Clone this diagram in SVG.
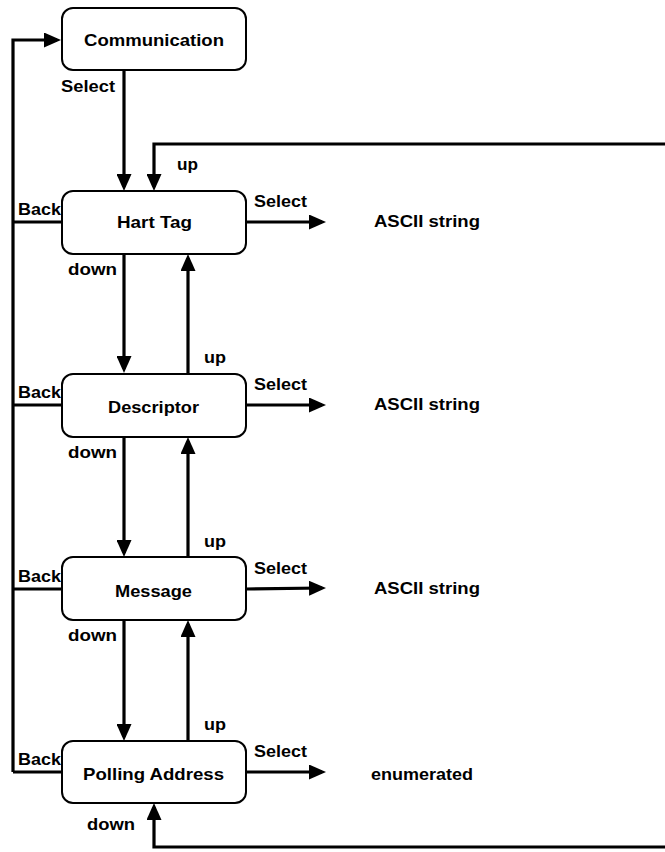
<svg xmlns="http://www.w3.org/2000/svg" width="665" height="852" viewBox="0 0 665 852">
<defs>
<marker id="arr" markerUnits="userSpaceOnUse" markerWidth="17" markerHeight="15" refX="13" refY="7.5" orient="auto">
<path d="M0,0 L17,7.5 L0,15 z" fill="#000"/>
</marker>
<style>
.box{fill:#fff;stroke:#000;stroke-width:2}
.t{font-family:"Liberation Sans",Arial,sans-serif;font-weight:bold;font-size:16.5px;fill:#000}
.c{text-anchor:middle}
.ln{fill:none;stroke:#000;stroke-width:3.2}
.a{marker-end:url(#arr)}
</style>
</defs>
<rect width="665" height="852" fill="#fff"/>
<g id="connectors">
<polyline class="ln a" points="13,772 13,40 57,40"/>
<line class="ln" x1="13" y1="222" x2="61" y2="222"/>
<line class="ln" x1="13" y1="405" x2="61" y2="405"/>
<line class="ln" x1="13" y1="589" x2="61" y2="589"/>
<line class="ln" x1="13" y1="772" x2="61" y2="772"/>
<line class="ln a" x1="124" y1="70" x2="124" y2="187"/>
<polyline class="ln a" points="665,144 154,144 154,187"/>
<line class="ln a" x1="124" y1="254" x2="124" y2="369"/>
<line class="ln a" x1="124" y1="437" x2="124" y2="553"/>
<line class="ln a" x1="124" y1="620" x2="124" y2="737"/>
<line class="ln a" x1="188" y1="373" x2="188" y2="258"/>
<line class="ln a" x1="188" y1="557" x2="188" y2="441"/>
<line class="ln a" x1="188" y1="741" x2="188" y2="624"/>
<polyline class="ln a" points="665,847 154,847 154,807"/>
<line class="ln a" x1="246" y1="222" x2="322" y2="222"/>
<line class="ln a" x1="246" y1="405" x2="322" y2="405"/>
<line class="ln a" x1="246" y1="589" x2="322" y2="588"/>
<line class="ln a" x1="246" y1="772" x2="322" y2="772"/>
</g>
<g id="communication">
<rect class="box" x="62" y="8" width="184" height="62" rx="11"/>
<text class="t c" x="154" y="46" textLength="140" lengthAdjust="spacingAndGlyphs">Communication</text>
</g>
<g id="hart-tag">
<rect class="box" x="62" y="191" width="184" height="63" rx="11"/>
<text class="t c" x="154.5" y="228" textLength="75" lengthAdjust="spacingAndGlyphs">Hart Tag</text>
</g>
<g id="descriptor">
<rect class="box" x="62" y="374" width="184" height="63" rx="11"/>
<text class="t c" x="153.5" y="413" textLength="91" lengthAdjust="spacingAndGlyphs">Descriptor</text>
</g>
<g id="message">
<rect class="box" x="62" y="557" width="184" height="63" rx="11"/>
<text class="t c" x="153.5" y="597" textLength="77" lengthAdjust="spacingAndGlyphs">Message</text>
</g>
<g id="polling-address">
<rect class="box" x="62" y="741" width="184" height="62" rx="11"/>
<text class="t c" x="153.5" y="780" textLength="141" lengthAdjust="spacingAndGlyphs">Polling Address</text>
</g>
<g id="out-hart"><text class="t" x="374" y="227" textLength="106" lengthAdjust="spacingAndGlyphs">ASCII string</text></g>
<g id="out-descriptor"><text class="t" x="374" y="410" textLength="106" lengthAdjust="spacingAndGlyphs">ASCII string</text></g>
<g id="out-message"><text class="t" x="374" y="594" textLength="106" lengthAdjust="spacingAndGlyphs">ASCII string</text></g>
<g id="out-polling"><text class="t" x="371" y="780" textLength="102" lengthAdjust="spacingAndGlyphs">enumerated</text></g>
<g id="labels">
<text class="t" x="61" y="92" textLength="54" lengthAdjust="spacingAndGlyphs">Select</text>
<text class="t" x="177" y="170" textLength="21" lengthAdjust="spacingAndGlyphs">up</text>
<text class="t" x="18" y="215" textLength="43" lengthAdjust="spacingAndGlyphs">Back</text>
<text class="t" x="254" y="207" textLength="53" lengthAdjust="spacingAndGlyphs">Select</text>
<text class="t" x="68" y="275" textLength="49" lengthAdjust="spacingAndGlyphs">down</text>
<text class="t" x="204" y="363" textLength="22" lengthAdjust="spacingAndGlyphs">up</text>
<text class="t" x="18" y="398" textLength="43" lengthAdjust="spacingAndGlyphs">Back</text>
<text class="t" x="254" y="390" textLength="53" lengthAdjust="spacingAndGlyphs">Select</text>
<text class="t" x="68" y="458" textLength="49" lengthAdjust="spacingAndGlyphs">down</text>
<text class="t" x="204" y="547" textLength="22" lengthAdjust="spacingAndGlyphs">up</text>
<text class="t" x="18" y="582" textLength="43" lengthAdjust="spacingAndGlyphs">Back</text>
<text class="t" x="254" y="574" textLength="53" lengthAdjust="spacingAndGlyphs">Select</text>
<text class="t" x="68" y="641" textLength="49" lengthAdjust="spacingAndGlyphs">down</text>
<text class="t" x="204" y="730" textLength="22" lengthAdjust="spacingAndGlyphs">up</text>
<text class="t" x="18" y="765" textLength="43" lengthAdjust="spacingAndGlyphs">Back</text>
<text class="t" x="254" y="757" textLength="53" lengthAdjust="spacingAndGlyphs">Select</text>
<text class="t" x="87" y="830" textLength="48" lengthAdjust="spacingAndGlyphs">down</text>
</g>
</svg>
